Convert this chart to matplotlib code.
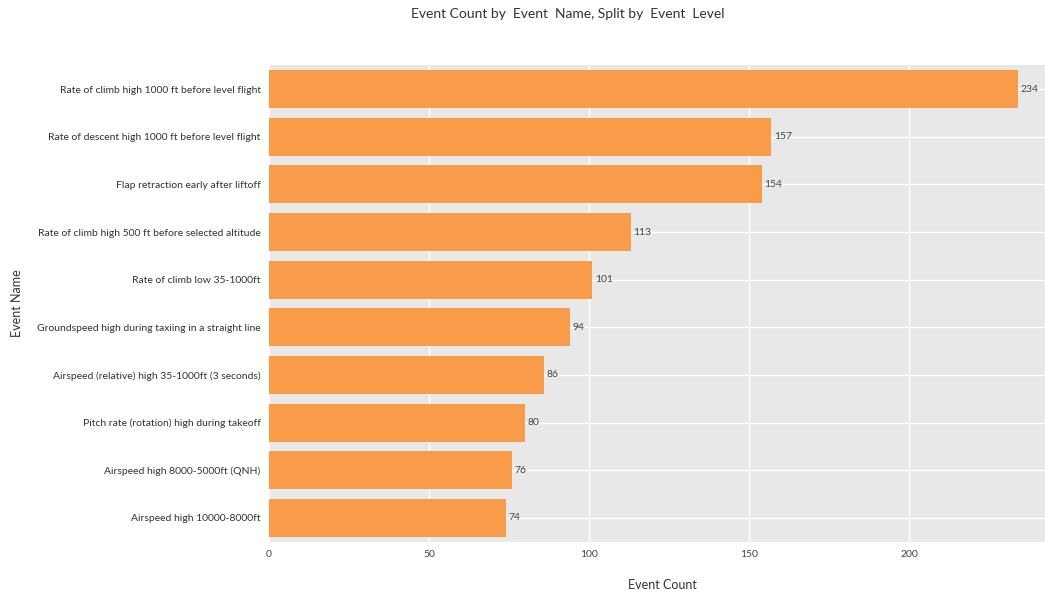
import matplotlib
matplotlib.use("Agg")
import matplotlib.pyplot as plt

plt.rcParams['font.family'] = ['Lato', 'DejaVu Sans']

events = [
    "Rate of climb high 1000 ft before level flight",
    "Rate of descent high 1000 ft before level flight",
    "Flap retraction early after liftoff",
    "Rate of climb high 500 ft before selected altitude",
    "Rate of climb low 35-1000ft",
    "Groundspeed high during taxiing in a straight line",
    "Airspeed (relative) high 35-1000ft (3 seconds)",
    "Pitch rate (rotation) high during takeoff",
    "Airspeed high 8000-5000ft (QNH)",
    "Airspeed high 10000-8000ft",
]
counts = [234, 157, 154, 113, 101, 94, 86, 80, 76, 74]
x_ticks = [0, 50, 100, 150, 200]

fig = plt.figure(figsize=(10.45, 5.95), dpi=100)
ax = fig.add_axes([0.2574, 0.0894, 0.7426, 0.801])
ax.set_facecolor('#E8E8E8')

ypos = list(range(len(events)))
ax.barh(ypos, counts, height=0.8, color='#F89C4C', zorder=3)
for y, v in zip(ypos, counts):
    ax.text(v + 0.8, y, str(v), va='center', ha='left', fontsize=7.5,
            color='#444444', zorder=4)

ax.set_ylim(len(events) - 0.5, -0.5)
ax.set_xlim(0, 242.5)
ax.set_yticks(ypos)
ax.set_yticklabels(events, fontsize=7.5, color='#333333')
ax.set_xticks(x_ticks)
ax.set_xticklabels([str(t) for t in x_ticks], fontsize=7.5, color='#444444')
ax.grid(True, color='white', linewidth=1, zorder=1)
ax.tick_params(length=0, pad=6)
for s in ax.spines.values():
    s.set_visible(False)

ax.set_ylabel("Event Name", fontsize=9, color='#333333', labelpad=10)
fig.text(0.634, 0.017, "Event Count", ha='center', va='center',
         fontsize=9, color='#333333')
fig.text(0.5435, 0.976, "Event Count by  Event  Name, Split by  Event  Level",
         ha='center', va='center', fontsize=10, color='#333333')

fig.savefig("out.png", dpi=100, facecolor='white')
